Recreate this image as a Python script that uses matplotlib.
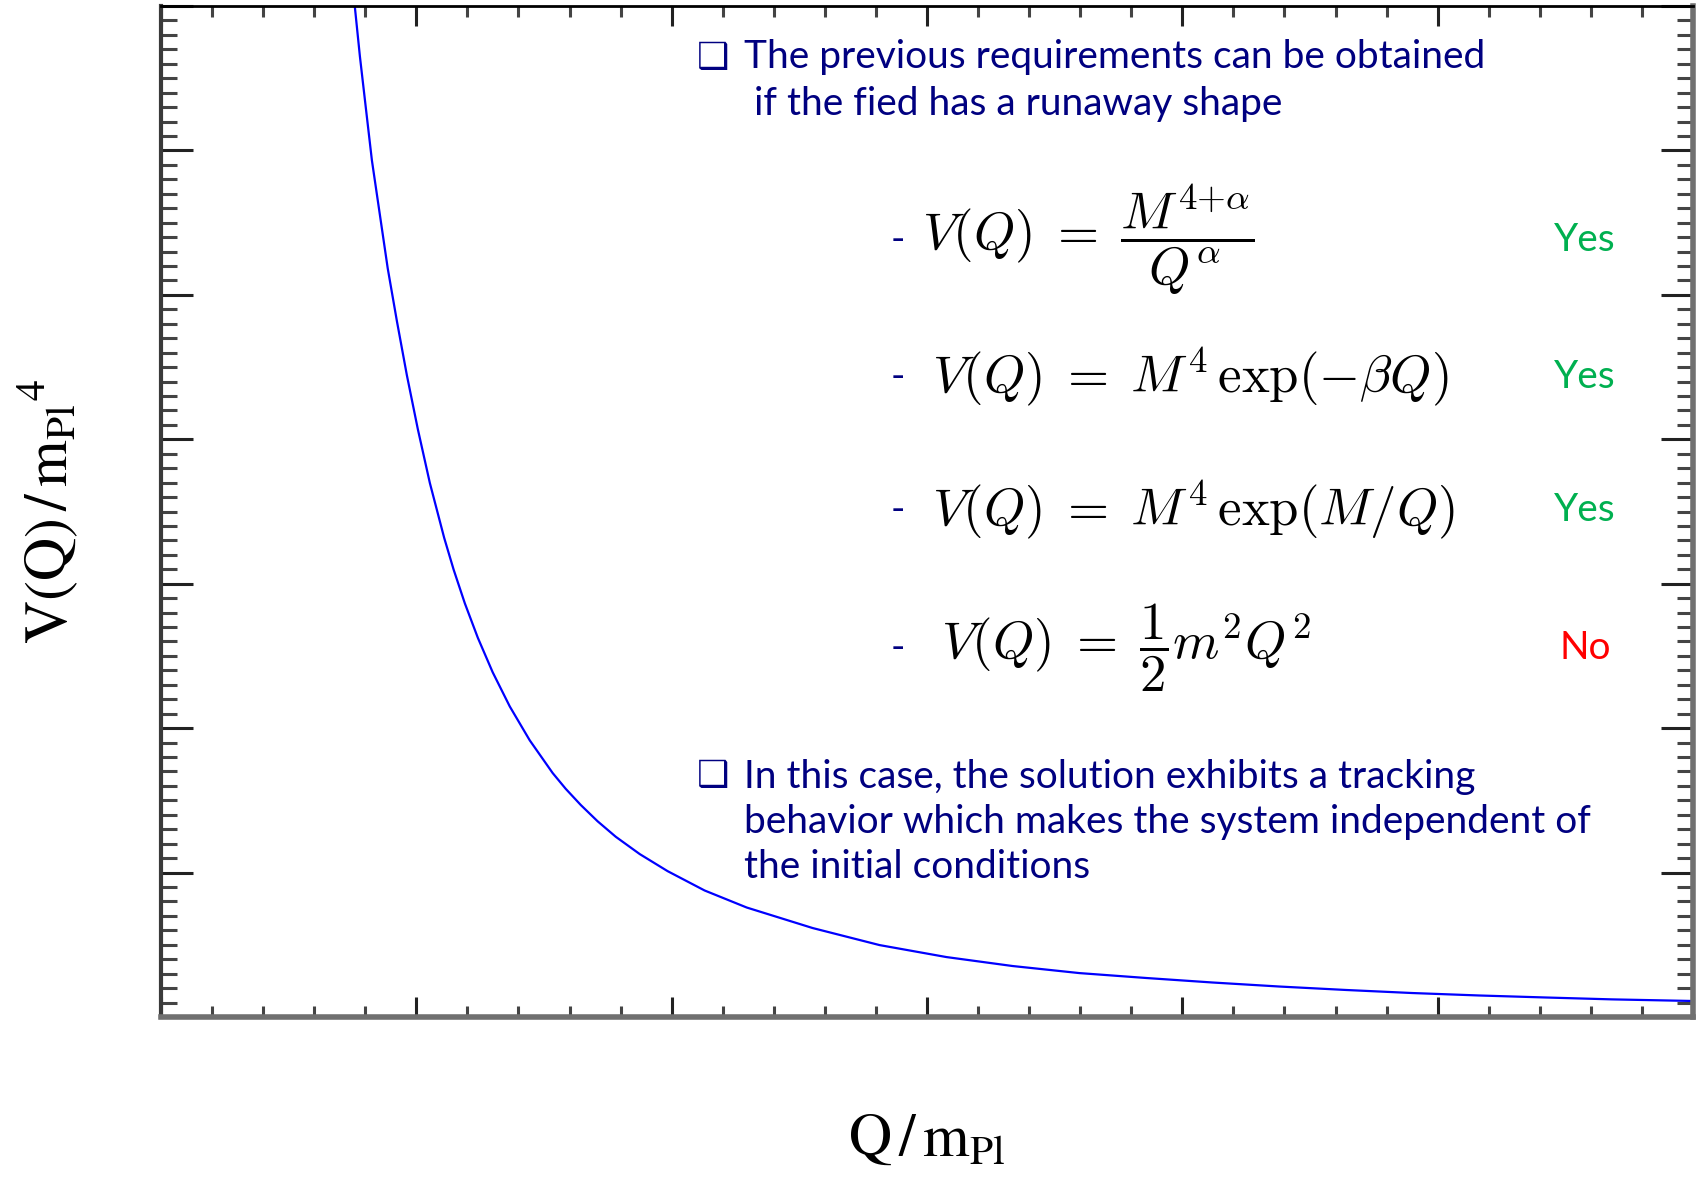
import matplotlib
matplotlib.use('Agg')
import matplotlib.pyplot as plt
from matplotlib.ticker import MultipleLocator

# potential curve V(Q) in units of m_Pl^4 against Q/m_Pl
q_vals = [0.759, 0.779, 0.802, 0.826, 0.857, 0.888, 0.924, 0.963, 1.006, 1.053,
          1.109, 1.146, 1.190, 1.241, 1.299, 1.366, 1.444, 1.534, 1.585, 1.644,
          1.710, 1.781, 1.875, 1.984, 2.129, 2.294, 2.552, 2.814, 3.076, 3.335,
          3.597, 3.859, 4.117, 4.380, 4.642, 4.900, 5.162, 5.425, 5.683, 5.996]
v_vals = [6.997, 6.651, 6.298, 5.931, 5.557, 5.183, 4.817, 4.443, 4.069, 3.697,
          3.318, 3.098, 2.864, 2.625, 2.387, 2.150, 1.916, 1.689, 1.580, 1.468,
          1.355, 1.248, 1.128, 1.010, 0.876, 0.758, 0.616, 0.498, 0.415, 0.353,
          0.304, 0.270, 0.239, 0.211, 0.187, 0.166, 0.149, 0.135, 0.122, 0.111]

bullet_1 = ['The previous requirements can be obtained',
            ' if the fied has a runaway shape']
bullet_2 = ['In this case, the solution exhibits a tracking',
            'behavior which makes the system independent of',
            'the initial conditions']

equations = [r'$V(Q)\;=\;\dfrac{M^{4{+}\alpha}}{Q^{\alpha}}$',
             r'$V(Q)\;=\;M^4\,\exp(-\beta Q)$',
             r'$V(Q)\;=\;M^4\,\exp(M/Q)$',
             r'$V(Q)\;=\;\dfrac{1}{2}m^2Q^2$']
verdicts = ['Yes', 'Yes', 'Yes', 'No']

W, H = 1700, 1177
navy = '#000080'
text_font = 'Lato'


def fpos(x, y):
    # pixel position (from top-left) -> figure fraction
    return x / W, 1 - y / H


fig = plt.figure(figsize=(W / 100, H / 100), dpi=100)
ax = fig.add_axes([161 / W, 1 - 1017 / H, (1693 - 161) / W, (1017 - 6) / H])

ax.plot(q_vals, v_vals, color='#0000ff', lw=1.6)

ax.set_xlim(0, 6)
ax.set_ylim(0, 7)
ax.xaxis.set_major_locator(MultipleLocator(1))
ax.xaxis.set_minor_locator(MultipleLocator(0.2))
ax.yaxis.set_major_locator(MultipleLocator(1))
ax.yaxis.set_minor_locator(MultipleLocator(0.1))
ax.tick_params(which='both', direction='in', top=True, right=True,
               labelbottom=False, labelleft=False, color='#222222')
ax.tick_params(axis='x', which='major', length=14.5, width=2.2)
ax.tick_params(axis='x', which='minor', length=8, width=2.2, color='#444444')
ax.tick_params(axis='y', which='major', length=23, width=2.2)
ax.tick_params(axis='y', which='minor', length=11.5, width=2.2, color='#444444')

ax.spines['top'].set_color('black')
ax.spines['top'].set_linewidth(2)
ax.spines['left'].set_color('#3a3a3a')
ax.spines['left'].set_linewidth(3)
for side in ['bottom', 'right']:
    ax.spines[side].set_color('#707070')
    ax.spines[side].set_linewidth(4)

ax.set_xlabel(r'$\mathrm{Q\,/\,m_{Pl}}$', fontsize=43, math_fontfamily='stix')
ax.set_ylabel(r'$\mathrm{V(Q)\,/\,m_{Pl}}^{4}$', fontsize=43, math_fontfamily='stix')
ax.xaxis.set_label_coords(0.5, -0.092)
ax.yaxis.set_label_coords(-0.053, 0.5)

# bullet blocks
fig.text(*fpos(713, 58), '\u2751', color=navy, fontsize=26, fontweight='bold',
         ha='center', va='center', family='DejaVu Sans')
for i, line in enumerate(bullet_1):
    fig.text(*fpos(744, 68 + 47 * i), line, color=navy, fontsize=28,
             family=text_font, ha='left', va='baseline')

fig.text(*fpos(713, 776), '\u2751', color=navy, fontsize=26, fontweight='bold',
         ha='center', va='center', family='DejaVu Sans')
for i, line in enumerate(bullet_2):
    fig.text(*fpos(744, 788 + 45 * i), line, color=navy, fontsize=28,
             family=text_font, ha='left', va='baseline')

# candidate potentials
eq_x = [922, 932, 932, 941]
eq_y = [240, 377, 510, 648]
for ex, ey, eq, verdict in zip(eq_x, eq_y, equations, verdicts):
    fig.text(*fpos(898, ey), '-', color=navy, fontsize=28, family=text_font,
             ha='center', va='center')
    fig.text(*fpos(ex, ey), eq, color='black', fontsize=38, math_fontfamily='cm',
             ha='left', va='center')
    fig.text(*fpos(1585, ey), verdict, fontsize=28, family=text_font,
             color='#00b050' if verdict == 'Yes' else '#ff0000',
             ha='center', va='center')

fig.savefig('out.png', dpi=100, facecolor='white')
